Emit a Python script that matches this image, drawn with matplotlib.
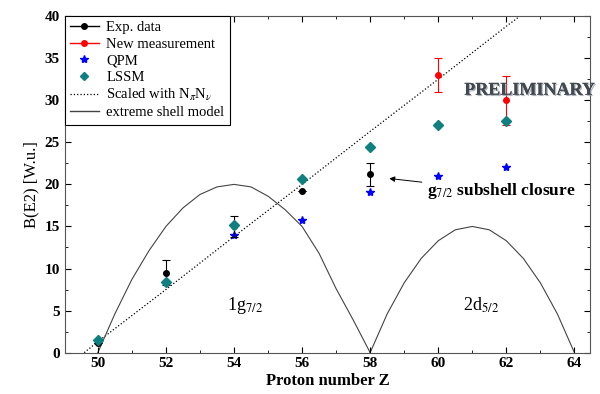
import matplotlib
matplotlib.use("Agg")
import matplotlib.pyplot as plt
from matplotlib.lines import Line2D
from matplotlib.ticker import MultipleLocator
import matplotlib.patheffects as pe

plt.rcParams['font.family'] = ['Liberation Serif', 'DejaVu Serif']
plt.rcParams['mathtext.fontset'] = 'stix'

# experimental data
exp_z = [50, 52, 54, 56, 58]
exp_b = [1.2, 9.5, 15.0, 19.2, 21.2]
exp_err = [0.0, 1.5, 1.3, 0.0, 1.4]

new_z = [60, 62]
new_b = [33.0, 30.0]
new_err = [2.0, 2.9]

qpm_z = [54, 56, 58, 60, 62]
qpm_b = [14.0, 15.8, 19.1, 21.0, 22.1]

lssm_z = [50, 52, 54, 56, 58, 60, 62]
lssm_b = [1.5, 8.4, 15.2, 20.6, 24.4, 27.1, 27.5]

scaled_z = [49.6, 50, 52, 54, 56, 58, 60, 62, 62.4]
scaled_b = [0.0, 1.3, 7.5, 13.8, 20.0, 26.3, 32.5, 38.8, 40.0]

# extreme shell model arcs
shell1_z = [50, 50.5, 51, 51.5, 52, 52.5, 53, 53.5, 54, 54.5, 55, 55.5, 56, 56.5, 57, 57.5, 58]
shell1_b = [0.0, 4.6, 8.7, 12.1, 15.0, 17.2, 18.8, 19.7, 20.0, 19.7, 18.6, 17.0, 15.0, 11.8, 7.6, 3.9, 0.0]
shell2_z = [58, 58.5, 59, 59.5, 60, 60.5, 61, 61.5, 62, 62.5, 63, 63.5, 64]
shell2_b = [0.0, 4.6, 8.3, 11.2, 13.3, 14.6, 15.0, 14.6, 13.3, 11.2, 8.3, 4.6, 0.0]

fig = plt.figure(figsize=(6.0, 3.94), dpi=100)
ax = fig.add_axes([0.108, 0.105, 0.876, 0.854])

ax.plot(scaled_z, scaled_b, ':', color='black', lw=0.9, zorder=1)
ax.plot(shell1_z, shell1_b, '-', color='#444444', lw=0.8, zorder=1)
ax.plot(shell2_z, shell2_b, '-', color='#444444', lw=0.8, zorder=1)

ax.errorbar(exp_z, exp_b, yerr=exp_err, fmt='o', color='black', ms=4, capsize=3,
            elinewidth=0.8, capthick=0.8, zorder=3)
ax.errorbar(new_z, new_b, yerr=new_err, fmt='o', color='red', ms=4, capsize=3,
            elinewidth=0.8, capthick=0.8, zorder=3)
ax.plot(qpm_z, qpm_b, '*', color='blue', ms=6, ls='none', zorder=2)
ax.plot(lssm_z, lssm_b, 'D', color='#0e8080', ms=5, ls='none', zorder=4)

handles = [
    Line2D([], [], color='black', marker='o', ms=4, lw=1),
    Line2D([], [], color='red', marker='o', ms=4, lw=1),
    Line2D([], [], color='blue', marker='*', ms=6, ls='none'),
    Line2D([], [], color='#0e8080', marker='D', ms=4, ls='none'),
    Line2D([], [], color='black', ls=':', lw=0.9),
    Line2D([], [], color='#444444', lw=1),
]
labels = ['Exp. data', 'New measurement', 'QPM', 'LSSM',
          r'Scaled with N$_\pi$N$_\nu$', 'extreme shell model']
leg = ax.legend(handles, labels, loc='upper left', bbox_to_anchor=(0.0, 1.0),
                fontsize=10.5, frameon=True, fancybox=False, edgecolor='black',
                framealpha=1, handlelength=2.0, borderpad=0.35, labelspacing=0.22,
                borderaxespad=0, handletextpad=0.5)
leg.get_frame().set_linewidth(0.8)

ax.text(62.68, 31.2, 'PRELIMINARY', fontsize=13, color='#404850', ha='center', va='center',
        fontweight='bold',
        path_effects=[pe.withSimplePatchShadow(offset=(1, -1), shadow_rgbFace='#9aa0a8', alpha=0.8),
                      pe.Normal()])
ax.annotate(r'g$_{7/2}$ subshell closure', xy=(58.56, 20.7), xytext=(59.68, 19.2),
            fontsize=12.5, fontweight='bold', va='center',
            arrowprops=dict(arrowstyle='-|>', color='black', lw=0.7, mutation_scale=8,
                            shrinkA=2, shrinkB=0))
ax.text(53.8, 5.6, r'1g$_{7/2}$', fontsize=13, ha='left', va='center')
ax.text(60.74, 5.6, r'2d$_{5/2}$', fontsize=13, ha='left', va='center')

ax.set_xlim(49.03, 64.47)
ax.set_ylim(0, 40)
ax.xaxis.set_major_locator(MultipleLocator(2))
ax.xaxis.set_minor_locator(MultipleLocator(1))
ax.yaxis.set_major_locator(MultipleLocator(5))
ax.yaxis.set_minor_locator(MultipleLocator(2.5))
ax.tick_params(which='both', direction='in', top=True, right=True, labelsize=11)
ax.tick_params(which='major', length=4)
ax.tick_params(which='minor', length=2)
for lab in ax.get_xticklabels() + ax.get_yticklabels():
    lab.set_fontweight('bold')
for s in ax.spines.values():
    s.set_color('#555555')
ax.set_xlabel('Proton number Z', fontsize=12, fontweight='bold', labelpad=2)
ax.set_ylabel('B(E2) [W.u.]', fontsize=12, labelpad=4)

fig.savefig('out.png', dpi=100)
